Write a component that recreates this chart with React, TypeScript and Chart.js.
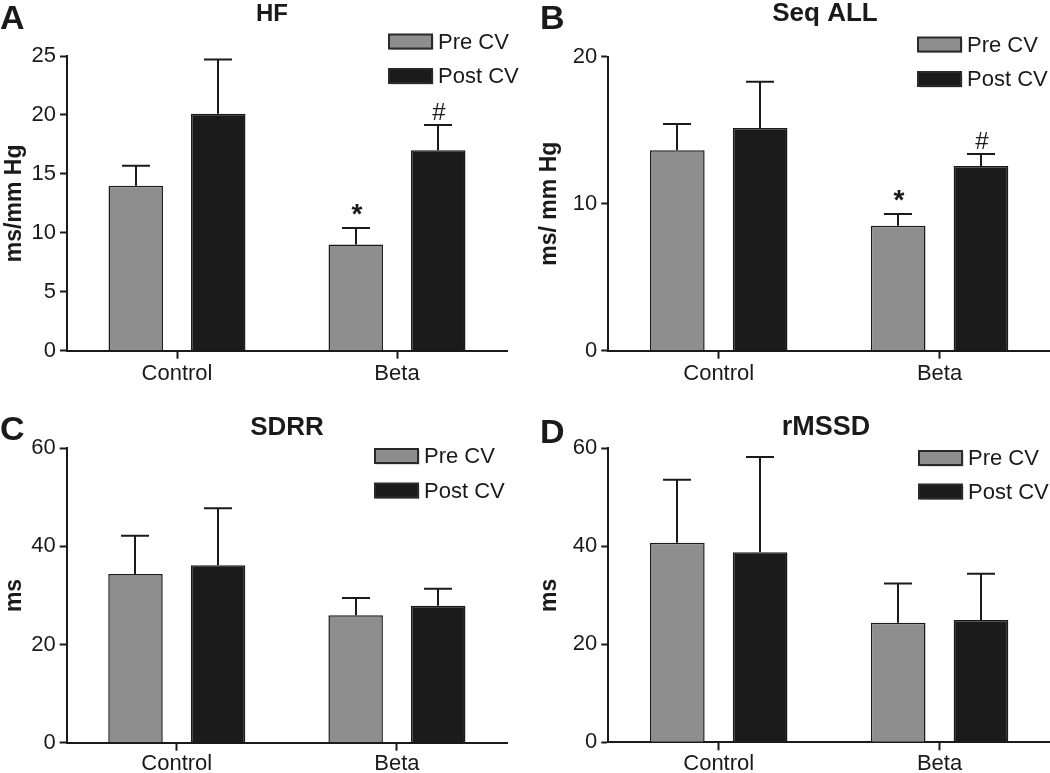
import React, { useEffect, useRef } from 'react';
import { Chart, registerables } from 'chart.js';

Chart.register(...registerables);

const FONT = '"Liberation Sans", Arial, Helvetica, sans-serif';

// ---------- data ----------
const categories = ['Control', 'Beta'];
const seriesNames = ['Pre CV', 'Post CV'];

// Panel A – HF
const hfPre = [14.0, 9.0];
const hfPost = [20.1, 17.0];
const hfPreErr = [1.7, 1.4];
const hfPostErr = [4.6, 2.15];
const hfPreMarks = ['', '*'];
const hfPostMarks = ['', '#'];
const hfTicks = [0, 5, 10, 15, 20, 25];

// Panel B – Seq ALL
const seqPre = [13.63, 8.5];
const seqPost = [15.15, 12.56];
const seqPreErr = [1.79, 0.8];
const seqPostErr = [3.15, 0.82];
const seqPreMarks = ['', '*'];
const seqPostMarks = ['', '#'];
const seqTicks = [0, 10, 20];

// Panel C – SDRR
const sdrrPre = [34.4, 25.96];
const sdrrPost = [36.15, 27.9];
const sdrrPreErr = [7.8, 3.54];
const sdrrPostErr = [11.65, 3.5];
const sdrrPreMarks = ['', ''];
const sdrrPostMarks = ['', ''];
const sdrrTicks = [0, 20, 40, 60];

// Panel D – rMSSD
const rmssdPre = [40.7, 24.4];
const rmssdPost = [38.8, 24.96];
const rmssdPreErr = [12.9, 8.0];
const rmssdPostErr = [19.4, 9.44];
const rmssdPreMarks = ['', ''];
const rmssdPostMarks = ['', ''];
const rmssdTicks = [0, 20, 40, 60];

// ---------- styles ----------
const PRE_COLOR = '#8e8e8e';
const POST_COLOR = '#1b1b1b';
const INK = '#1a1a1a';

type PanelDef = {
  letter: string;
  title: string;
  yTitle: string;
  pre: number[];
  post: number[];
  preErr: number[];
  postErr: number[];
  preMarks: string[];
  postMarks: string[];
  ticks: number[];
  // layout (style)
  left: number;
  top: number;
  width: number;
  height: number;
  yAxisWidth: number;
  padTop: number;
  padRight: number;
  xAxisHeight: number;
  xLabelPad: number;
  yTitlePad: number;
  letterX: number;
  letterBase: number;
  titleX: number;
  titleBase: number;
  titleSize: number;
  legendBoxX: number;
  legendRow1: number;
  legendRow2: number;
};

const panels: PanelDef[] = [
  {
    letter: 'A', title: 'HF', yTitle: 'ms/mm Hg',
    pre: hfPre, post: hfPost, preErr: hfPreErr, postErr: hfPostErr,
    preMarks: hfPreMarks, postMarks: hfPostMarks, ticks: hfTicks,
    left: 0, top: 0, width: 525, height: 390,
    yAxisWidth: 67, padTop: 56, padRight: 18, xAxisHeight: 39.3, xLabelPad: 2, yTitlePad: 1,
    letterX: 0, letterBase: 29, titleX: 272, titleBase: 21, titleSize: 24,
    legendBoxX: 389, legendRow1: 41.5, legendRow2: 76,
  },
  {
    letter: 'B', title: 'Seq ALL', yTitle: 'ms/ mm Hg',
    pre: seqPre, post: seqPost, preErr: seqPreErr, postErr: seqPostErr,
    preMarks: seqPreMarks, postMarks: seqPostMarks, ticks: seqTicks,
    left: 525, top: 0, width: 525, height: 390,
    yAxisWidth: 83.3, padTop: 56.7, padRight: 0, xAxisHeight: 39.3, xLabelPad: 2, yTitlePad: 11,
    letterX: 15, letterBase: 29, titleX: 300, titleBase: 21, titleSize: 26,
    legendBoxX: 393, legendRow1: 44.5, legendRow2: 79,
  },
  {
    letter: 'C', title: 'SDRR', yTitle: 'ms',
    pre: sdrrPre, post: sdrrPost, preErr: sdrrPreErr, postErr: sdrrPostErr,
    preMarks: sdrrPreMarks, postMarks: sdrrPostMarks, ticks: sdrrTicks,
    left: 0, top: 390, width: 525, height: 383,
    yAxisWidth: 66.7, padTop: 58.3, padRight: 18, xAxisHeight: 30.3, xLabelPad: 0, yTitlePad: 1,
    letterX: 0, letterBase: 50, titleX: 287, titleBase: 45, titleSize: 26,
    legendBoxX: 375, legendRow1: 66, legendRow2: 100.5,
  },
  {
    letter: 'D', title: 'rMSSD', yTitle: 'ms',
    pre: rmssdPre, post: rmssdPost, preErr: rmssdPreErr, postErr: rmssdPostErr,
    preMarks: rmssdPreMarks, postMarks: rmssdPostMarks, ticks: rmssdTicks,
    left: 525, top: 390, width: 525, height: 383,
    yAxisWidth: 83.3, padTop: 58.3, padRight: 0, xAxisHeight: 30.7, xLabelPad: 0, yTitlePad: 11,
    letterX: 15, letterBase: 53, titleX: 301, titleBase: 45, titleSize: 27,
    legendBoxX: 394, legendRow1: 68, legendRow2: 101.5,
  },
];

function Panel({ p }: { p: PanelDef }) {
  const ref = useRef<HTMLCanvasElement | null>(null);

  useEffect(() => {
    if (!ref.current) return;
    const errs = [p.preErr, p.postErr];
    const marks = [p.preMarks, p.postMarks];

    const decorations = {
      id: 'decorations' + p.letter,
      afterDatasetsDraw(chart: any) {
        const ctx = chart.ctx;
        const y = chart.scales.y;
        chart.data.datasets.forEach((ds: any, i: number) => {
          const meta = chart.getDatasetMeta(i);
          meta.data.forEach((el: any, j: number) => {
            const v = ds.data[j] as number;
            const e = errs[i][j];
            const topPx = y.getPixelForValue(v + e);
            const x = Math.round(el.x);
            ctx.save();
            ctx.strokeStyle = INK;
            ctx.lineWidth = 2;
            ctx.beginPath();
            ctx.moveTo(x, el.y);
            ctx.lineTo(x, topPx);
            ctx.moveTo(x - 14, topPx);
            ctx.lineTo(x + 14, topPx);
            ctx.stroke();
            const m = marks[i][j];
            if (m) {
              ctx.fillStyle = INK;
              ctx.textAlign = 'center';
              ctx.textBaseline = 'alphabetic';
              ctx.font = m === '*' ? `bold 28px ${FONT}` : `24px ${FONT}`;
              ctx.fillText(m, x + 1, topPx - 5);
            }
            ctx.restore();
          });
        });
      },
      afterDraw(chart: any) {
        const ctx = chart.ctx;
        ctx.save();
        // panel letter
        ctx.fillStyle = INK;
        ctx.textAlign = 'left';
        ctx.textBaseline = 'alphabetic';
        ctx.font = `bold 34px ${FONT}`;
        ctx.fillText(p.letter, p.letterX, p.letterBase);
        // title
        ctx.textAlign = 'center';
        ctx.font = `bold ${p.titleSize}px ${FONT}`;
        ctx.fillText(p.title, p.titleX, p.titleBase);
        // legend
        const rows = [p.legendRow1, p.legendRow2];
        chart.data.datasets.forEach((ds: any, i: number) => {
          const cy = rows[i];
          const bx = p.legendBoxX;
          const bw = 43;
          const bh = 14;
          ctx.fillStyle = '#bdbdbd';
          ctx.fillRect(bx + 1.5, cy - bh / 2 + 1.5, bw, bh);
          ctx.fillStyle = ds.backgroundColor;
          ctx.fillRect(bx, cy - bh / 2, bw, bh);
          ctx.strokeStyle = '#2a2a2a';
          ctx.lineWidth = 2;
          ctx.strokeRect(bx, cy - bh / 2, bw, bh);
          ctx.fillStyle = INK;
          ctx.textAlign = 'left';
          ctx.textBaseline = 'middle';
          ctx.font = `22px ${FONT}`;
          ctx.fillText(ds.label, bx + bw + 6, cy + 1);
        });
        ctx.restore();
      },
    };

    const tickMin = p.ticks[0];
    const tickMax = p.ticks[p.ticks.length - 1];
    const step = p.ticks[1] - p.ticks[0];

    const chart = new Chart(ref.current, {
      type: 'bar',
      data: {
        labels: categories,
        datasets: [
          {
            label: seriesNames[0],
            data: p.pre,
            backgroundColor: PRE_COLOR,
            borderColor: INK,
            borderWidth: 1.5,
            categoryPercentage: 0.75,
            barPercentage: 0.66,
          },
          {
            label: seriesNames[1],
            data: p.post,
            backgroundColor: POST_COLOR,
            borderColor: INK,
            borderWidth: 1.5,
            categoryPercentage: 0.75,
            barPercentage: 0.66,
          },
        ],
      },
      options: {
        responsive: false,
        animation: false,
        devicePixelRatio: 1,
        layout: { padding: { left: 0, right: p.padRight, top: p.padTop, bottom: 0 } },
        plugins: {
          legend: { display: false },
          title: { display: false },
          tooltip: { enabled: false },
        },
        scales: {
          x: {
            grid: {
              offset: false,
              drawOnChartArea: false,
              drawTicks: true,
              tickLength: 8,
              tickWidth: 2,
              tickColor: INK,
            },
            border: { display: true, color: INK, width: 2 },
            ticks: {
              color: INK,
              padding: p.xLabelPad,
              font: { family: FONT, size: 22 },
            },
            afterFit: (scale: any) => {
              scale.height = p.xAxisHeight;
            },
          },
          y: {
            min: tickMin,
            max: tickMax,
            grid: {
              drawOnChartArea: false,
              drawTicks: true,
              tickLength: 7,
              tickWidth: 2,
              tickColor: INK,
            },
            border: { display: true, color: INK, width: 2 },
            ticks: {
              stepSize: step,
              color: INK,
              padding: 4,
              font: { family: FONT, size: 22 },
            },
            title: {
              display: true,
              text: p.yTitle,
              color: INK,
              padding: { top: p.yTitlePad, bottom: 0 },
              font: { family: FONT, size: 23, weight: 'bold' },
            },
            afterFit: (scale: any) => {
              scale.width = p.yAxisWidth;
            },
          },
        },
      },
      plugins: [decorations],
    } as any);

    return () => chart.destroy();
  }, [p]);

  return (
    <canvas
      ref={ref}
      width={p.width}
      height={p.height}
      style={{ position: 'absolute', left: p.left, top: p.top, width: p.width, height: p.height, display: 'block' }}
    />
  );
}

export default function App() {
  return (
    <div style={{ position: 'absolute', left: 0, top: 0, width: 1050, height: 773, background: '#ffffff', overflow: 'hidden' }}>
      {panels.map((p) => (
        <Panel key={p.letter} p={p} />
      ))}
    </div>
  );
}
